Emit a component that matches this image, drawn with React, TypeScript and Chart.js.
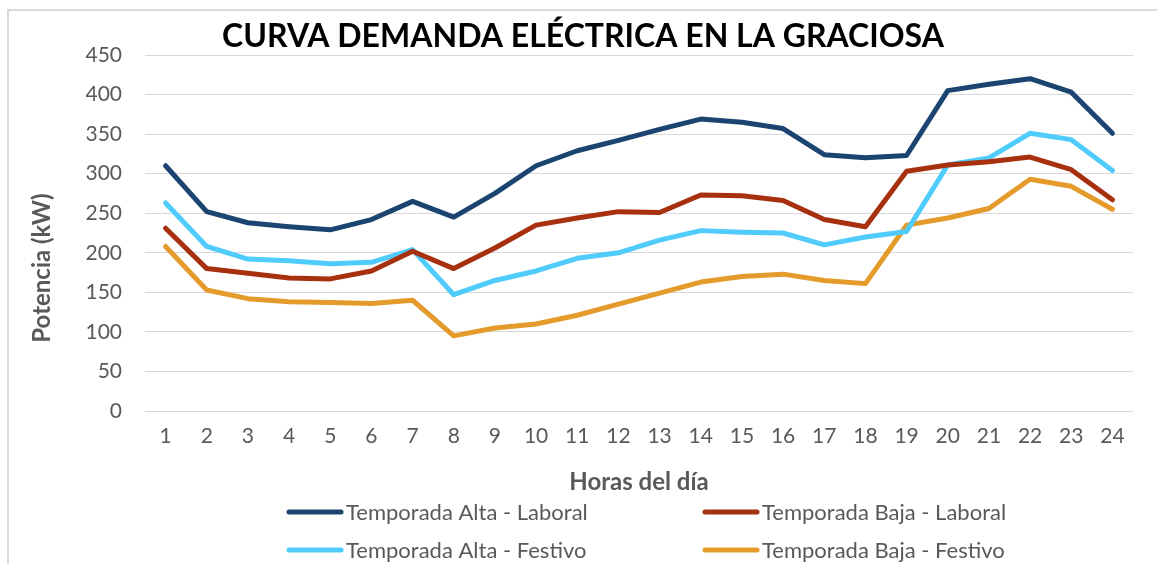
import React, { useEffect, useRef } from "react";
import { Chart, registerables } from "chart.js";

Chart.register(...registerables);

const chartTitle = "CURVA DEMANDA ELÉCTRICA EN LA GRACIOSA";
const xTitle = "Horas del día";
const yTitle = "Potencia (kW)";

const hours = ["1","2","3","4","5","6","7","8","9","10","11","12","13","14","15","16","17","18","19","20","21","22","23","24"];

const seriesNames = [
  "Temporada Alta - Laboral",
  "Temporada Baja - Laboral",
  "Temporada Alta - Festivo",
  "Temporada Baja - Festivo",
];
const seriesColors = ["#1B4470", "#A7300F", "#4FCBFC", "#E59B2B"];

const altaLaboral = [310, 252, 238, 233, 229, 242, 265, 245, 275, 310, 329, 342, 356, 369, 365, 357, 324, 320, 323, 405, 413, 420, 403, 351];
const bajaLaboral = [231, 180, 174, 168, 167, 177, 202, 180, 206, 235, 244, 252, 251, 273, 272, 266, 242, 233, 303, 311, 315, 321, 305, 267];
const altaFestivo = [263, 208, 192, 190, 186, 188, 204, 147, 165, 177, 193, 200, 216, 228, 226, 225, 210, 220, 227, 311, 320, 351, 343, 304];
const bajaFestivo = [208, 153, 142, 138, 137, 136, 140, 95, 105, 110, 121, 135, 149, 163, 170, 173, 165, 161, 235, 244, 256, 293, 284, 255];

const yMin = 0;
const yMax = 450;
const yStep = 50;

const FONT = "Lato, 'Open Sans', sans-serif";
const GRAY = "#595959";

const decorPlugin = {
  id: "decor",
  afterDraw(chart: any) {
    const ctx = chart.ctx as CanvasRenderingContext2D;
    const area = chart.chartArea;
    ctx.save();
    // Title
    ctx.fillStyle = "#000000";
    ctx.font = `bold 32px ${FONT}`;
    ctx.textAlign = "center";
    ctx.textBaseline = "middle";
    ctx.fillText(chartTitle, 583, 37);

    // X axis title
    ctx.fillStyle = GRAY;
    ctx.font = `bold 24px ${FONT}`;
    ctx.fillText(xTitle, (area.left + area.right) / 2, 482);

    // Y axis title
    ctx.save();
    ctx.translate(42, 268);
    ctx.rotate(-Math.PI / 2);
    ctx.fillText(yTitle, 0, 0);
    ctx.restore();

    // Legend (2 columns x 2 rows)
    const cols = [287, 703];
    const rows = [512, 550];
    ctx.font = `22px ${FONT}`;
    ctx.textAlign = "left";
    chart.data.datasets.forEach((ds: any, i: number) => {
      const x = cols[i % 2];
      const y = rows[Math.floor(i / 2)];
      ctx.strokeStyle = ds.borderColor;
      ctx.lineWidth = 5;
      ctx.lineCap = "round";
      ctx.beginPath();
      ctx.moveTo(x + 2, y);
      ctx.lineTo(x + 54, y);
      ctx.stroke();
      ctx.fillStyle = GRAY;
      ctx.fillText(ds.label, x + 59, y + 1);
    });
    ctx.restore();
  },
};

export default function App() {
  const canvasRef = useRef<HTMLCanvasElement | null>(null);

  useEffect(() => {
    document.body.style.overflow = "hidden";
    const canvas = canvasRef.current;
    if (!canvas) return;
    const seriesValues = [altaLaboral, bajaLaboral, altaFestivo, bajaFestivo];
    const chart = new Chart(canvas, {
      type: "line",
      data: {
        labels: hours,
        datasets: seriesValues.map((vals, i) => ({
          label: seriesNames[i],
          data: vals,
          borderColor: seriesColors[i],
          backgroundColor: seriesColors[i],
          borderWidth: 5,
          pointRadius: 0,
          pointHoverRadius: 0,
          borderJoinStyle: "round" as const,
          borderCapStyle: "round" as const,
          tension: 0,
          fill: false,
        })),
      },
      options: {
        responsive: false,
        animation: false,
        layout: { padding: { left: 0, right: 24, top: 55, bottom: 0 } },
        plugins: {
          legend: { display: false },
          title: { display: false },
          tooltip: { enabled: false },
        },
        scales: {
          x: {
            offset: true,
            grid: { display: false, drawTicks: false },
            border: { display: false },
            ticks: {
              color: GRAY,
              font: { family: FONT, size: 21 },
              padding: 13,
              maxRotation: 0,
              autoSkip: false,
            },
            afterFit: (scale: any) => {
              scale.height = 153;
            },
          },
          y: {
            min: yMin,
            max: yMax,
            grid: { color: "#d9d9d9", lineWidth: 1, drawTicks: false },
            border: { display: false },
            ticks: {
              stepSize: yStep,
              color: GRAY,
              font: { family: FONT, size: 21 },
              padding: 23,
            },
            afterFit: (scale: any) => {
              scale.width = 145;
            },
          },
        },
      },
      plugins: [decorPlugin],
    });
    return () => chart.destroy();
  }, []);

  return (
    <div style={{ position: "fixed", left: 0, top: 0, width: 1157, height: 564, overflow: "hidden", background: "#ffffff" }}>
      <div
        style={{
          position: "absolute",
          left: 7,
          top: 9,
          width: 1300,
          height: 700,
          borderTop: "2px solid #d9d9d9",
          borderLeft: "2px solid #d9d9d9",
        }}
      />
      <canvas ref={canvasRef} width={1157} height={564} style={{ position: "absolute", left: 0, top: 0 }} />
    </div>
  );
}
